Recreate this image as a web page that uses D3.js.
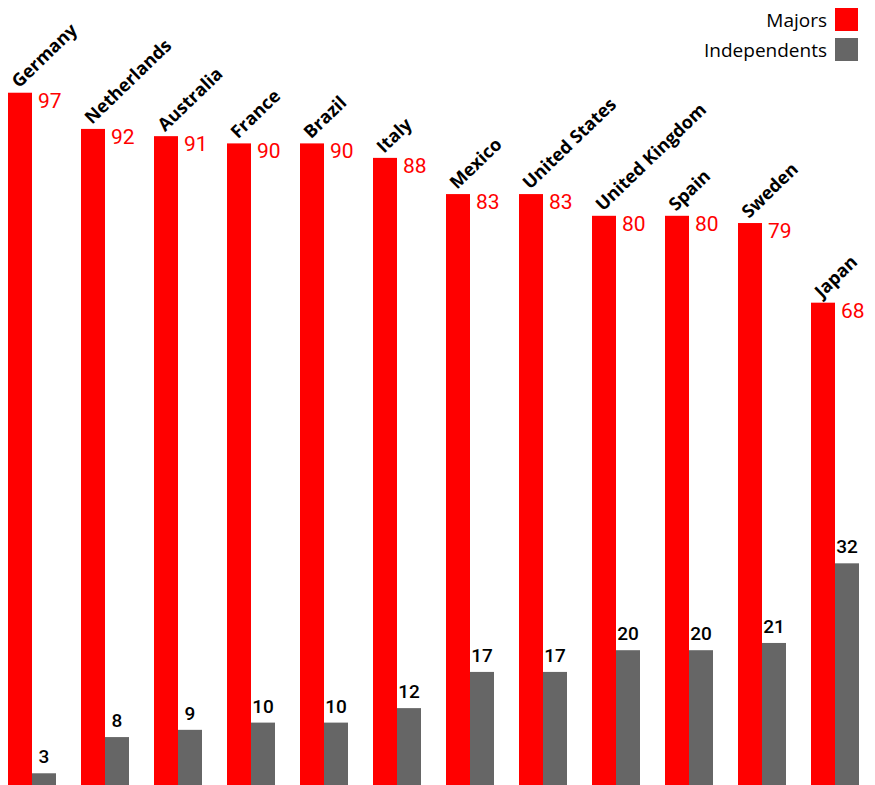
<!DOCTYPE html>
<html>
<head>
<meta charset="utf-8">
<script src="https://cdn.jsdelivr.net/npm/d3@7"></script>
<style>
  html, body { margin: 0; padding: 0; background: #fff; }
  svg { display: block; }
  text { font-family: "Open Sans", "Noto Sans", sans-serif; }
  .num { font-family: Roboto, "Open Sans", sans-serif; }
</style>
</head>
<body>
<svg id="chart" width="875" height="785"></svg>
<script>
// Market share (%) of major labels vs independents by country
const countries = ["Germany", "Netherlands", "Australia", "France", "Brazil", "Italy",
                   "Mexico", "United States", "United Kingdom", "Spain", "Sweden", "Japan"];
const majors       = [97, 92, 91, 90, 90, 88, 83, 83, 80, 80, 79, 68];
const independents = [3, 8, 9, 10, 10, 12, 17, 17, 20, 20, 21, 32];
const seriesNames  = ["Majors", "Independents"];
const seriesColors = ["#ff0000", "#666666"];

const svg = d3.select("#chart");

const step = 73, padInner = 25 / 73, x0 = 8;
const x = d3.scaleBand()
  .domain(countries)
  .range([x0, x0 + step * (countries.length - padInner)])
  .paddingInner(padInner)
  .paddingOuter(0);

const xs = d3.scaleBand()
  .domain(seriesNames)
  .range([0, x.bandwidth()])
  .padding(0);

const baseY = 795;
const y = d3.scaleLinear().domain([0, 100]).range([baseY, baseY - 724]);

const rows = countries.map((c, i) => ({
  country: c,
  values: [
    { key: "Majors", value: majors[i] },
    { key: "Independents", value: independents[i] }
  ]
}));

const groups = svg.append("g").selectAll("g")
  .data(rows)
  .join("g")
  .attr("transform", d => `translate(${x(d.country)},0)`);

// bars
groups.selectAll("rect")
  .data(d => d.values)
  .join("rect")
  .attr("x", d => xs(d.key))
  .attr("width", xs.bandwidth())
  .attr("y", d => y(d.value))
  .attr("height", d => baseY - y(d.value))
  .attr("fill", (d, i) => seriesColors[i]);

// majors value labels, beside the bar top
groups.append("text")
  .attr("class", "num")
  .attr("x", xs("Majors") + xs.bandwidth() + 6)
  .attr("y", d => y(d.values[0].value) + 15)
  .attr("fill", "#ff0000")
  .attr("font-size", 21)
  .attr("font-weight", 400)
  .text(d => d.values[0].value);

// independents value labels, above the bar
groups.append("text")
  .attr("class", "num")
  .attr("x", xs("Independents") + xs.bandwidth() / 2)
  .attr("y", d => y(d.values[1].value) - 10)
  .attr("text-anchor", "middle")
  .attr("fill", "#000")
  .attr("font-size", 19)
  .attr("font-weight", 500)
  .text(d => d.values[1].value);

// rotated country names
groups.append("text")
  .attr("transform", d => `translate(${xs("Majors") + 11},${y(d.values[0].value) - 4}) rotate(-44)`)
  .attr("font-size", 18)
  .attr("font-weight", 700)
  .attr("fill", "#000")
  .text(d => d.country);

// legend
const legend = svg.append("g").selectAll("g")
  .data(seriesNames)
  .join("g")
  .attr("transform", (d, i) => `translate(0,${8 + i * 30})`);

legend.append("rect")
  .attr("x", 835)
  .attr("y", 0)
  .attr("width", 23)
  .attr("height", 23)
  .attr("fill", (d, i) => seriesColors[i]);

legend.append("text")
  .attr("x", 827)
  .attr("y", 19)
  .attr("text-anchor", "end")
  .attr("font-size", 19)
  .attr("font-weight", 500)
  .attr("fill", "#000")
  .text(d => d);
</script>
</body>
</html>
